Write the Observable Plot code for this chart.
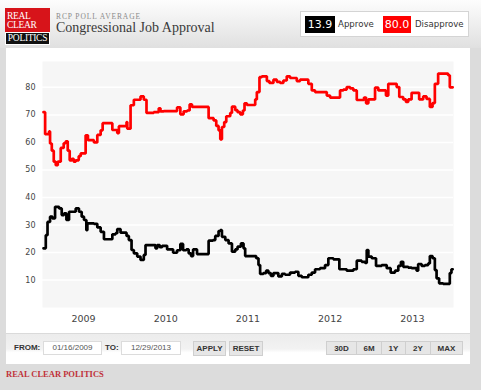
<!DOCTYPE html>
<html><head><meta charset="utf-8">
<script src="https://cdn.jsdelivr.net/npm/d3@7"></script>
<script src="https://cdn.jsdelivr.net/npm/@observablehq/plot@0.6"></script>
<style>
html,body{margin:0;padding:0;}
body{width:481px;height:390px;overflow:hidden;background:#dcdcdc;position:relative;font-family:"Liberation Sans",Arial,sans-serif;}
.abs{position:absolute;}
#header{left:0;top:0;width:481px;height:48px;background:linear-gradient(#fdfdfd,#e0e0e0);}
#logo{left:5px;top:8px;width:45px;height:37px;background:#d7141a;overflow:hidden;}
#logo .rc{position:absolute;left:2px;color:#fff;font:9.5px/9px "Liberation Serif",serif;letter-spacing:-0.3px;}
#logo .pol{position:absolute;left:0;bottom:0;width:45px;height:13px;background:#111;color:#fff;font:9.5px/11px "Liberation Serif",serif;text-align:center;border:1px solid #fff;box-sizing:border-box;letter-spacing:-0.3px;}
#kicker{left:56px;top:12px;font:7.5px "Liberation Serif",serif;letter-spacing:0.9px;color:#8a8a8a;}
#title{left:56px;top:20px;font:14px "Liberation Serif",serif;color:#3a3a3a;}
#legend{left:300px;top:11px;width:169px;height:26px;background:#fff;border:1px solid #d4d4d4;box-sizing:border-box;}
.lbox{position:absolute;top:16px;height:17px;color:#fff;font:11px/17px "DejaVu Sans",sans-serif;text-align:center;}
.ltxt{position:absolute;top:18px;font:8.6px/13px "DejaVu Sans",sans-serif;color:#333;}
#panel{left:6px;top:48px;width:464px;height:316px;background:#fff;}
#chart{left:6px;top:48px;}
#strip{left:6px;top:333px;width:464px;height:31px;border-top:1px solid #dadada;box-sizing:border-box;background:linear-gradient(#ececec 0%,#f2f2f2 50%,#fff 62%);}
.lab{position:absolute;top:343px;font:bold 8px/10px "Liberation Sans",Arial,sans-serif;color:#333;}
.inp{position:absolute;top:341px;height:14px;background:#fff;border:1px solid #dcdcdc;box-sizing:border-box;font:8px/12px "Liberation Sans",Arial,sans-serif;color:#555;text-align:center;}
.btn{position:absolute;top:341px;height:15px;background:#e6e6e6;border:1px solid #cfcfcf;box-sizing:border-box;font:bold 8px/13px "Liberation Sans",Arial,sans-serif;color:#333;text-align:center;}
#footer{left:6px;top:369px;font:bold 8.5px "Liberation Serif",serif;color:#c0313a;}
</style>
</head><body>
<script>
// Congressional Job Approval, RCP poll average (decimal year, percent)
const approve = [[2009.012,21.5],[2009.040,26.3],[2009.061,31.1],[2009.092,33],[2009.121,32.4],[2009.153,36.6],[2009.202,36],[2009.234,33.6],[2009.262,34.2],[2009.291,31.8],[2009.323,34.8],[2009.404,36],[2009.444,34.8],[2009.477,33],[2009.505,31.8],[2009.534,28.1],[2009.546,30.6],[2009.626,30.4],[2009.667,29.1],[2009.708,27.5],[2009.748,24.8],[2009.850,26.6],[2009.890,27],[2009.910,28.5],[2009.950,27.2],[2010.023,26],[2010.051,24.5],[2010.084,20.9],[2010.112,19.7],[2010.153,18.5],[2010.193,17.3],[2010.233,19.1],[2010.254,22.7],[2010.375,21.5],[2010.396,22.7],[2010.427,21.9],[2010.456,22.4],[2010.517,21.1],[2010.590,19.9],[2010.638,20.8],[2010.678,23.1],[2010.711,20.8],[2010.751,21.1],[2010.779,19.7],[2010.808,18.7],[2010.833,21.1],[2010.881,19.4],[2011.022,24.3],[2011.075,24.5],[2011.103,26],[2011.143,27.8],[2011.164,28.1],[2011.184,25.7],[2011.225,24.5],[2011.265,23.3],[2011.306,20.3],[2011.346,21.1],[2011.374,22.1],[2011.415,23.3],[2011.447,21.5],[2011.467,18.7],[2011.601,17.9],[2011.629,15.4],[2011.649,12.2],[2011.689,12.5],[2011.722,13.4],[2011.750,12.5],[2011.779,11.5],[2011.811,12.5],[2011.871,11.3],[2011.913,12.2],[2011.953,11.9],[2012.013,12.7],[2012.074,13],[2012.114,11.5],[2012.155,11],[2012.235,11.9],[2012.277,12.7],[2012.317,13.9],[2012.377,14.3],[2012.438,15.4],[2012.478,17.9],[2012.539,17.5],[2012.612,13.9],[2012.701,13.4],[2012.782,13.9],[2012.823,17],[2012.883,16.6],[2012.924,16.2],[2012.944,20.9],[2012.964,18.5],[2013.005,17.9],[2013.057,15.1],[2013.126,15.4],[2013.187,14.3],[2013.235,12.7],[2013.288,13.4],[2013.328,15.1],[2013.360,16.6],[2013.388,14.8],[2013.449,14.5],[2013.490,14.3],[2013.551,13.4],[2013.570,15.8],[2013.612,15.1],[2013.652,15.4],[2013.692,16],[2013.712,18.7],[2013.745,17.9],[2013.773,13.6],[2013.794,10.6],[2013.825,8.8],[2013.874,8.6],[2013.955,12.5],[2013.975,13.9],[2013.990,13.9]];
const disapprove = [[2009.012,71],[2009.032,63],[2009.080,64],[2009.092,59.6],[2009.113,57],[2009.137,53],[2009.161,51.7],[2009.186,53],[2009.222,58],[2009.258,59.7],[2009.283,60.4],[2009.307,57],[2009.331,53.5],[2009.356,54],[2009.380,53],[2009.404,53.5],[2009.441,55],[2009.465,56],[2009.525,62.6],[2009.553,60.8],[2009.626,60],[2009.667,62.7],[2009.708,64.4],[2009.732,67],[2009.789,67],[2009.850,64.5],[2009.910,63.4],[2009.930,65.9],[2010.011,65.9],[2010.023,67.4],[2010.032,65],[2010.072,73.5],[2010.112,75.5],[2010.193,76.7],[2010.233,75.5],[2010.266,70.7],[2010.316,70.7],[2010.354,71],[2010.415,72.4],[2010.436,71.3],[2010.476,71.4],[2010.597,71.4],[2010.638,72.7],[2010.678,70.2],[2010.718,71.3],[2010.760,71.6],[2010.791,73.8],[2010.820,72.9],[2011.002,72.9],[2011.022,68.8],[2011.083,68],[2011.115,66],[2011.143,64.4],[2011.164,61.1],[2011.184,65.6],[2011.212,67.4],[2011.237,69.5],[2011.285,70.7],[2011.306,73],[2011.346,71.7],[2011.374,71],[2011.407,70.2],[2011.439,71.6],[2011.459,74.2],[2011.488,73.6],[2011.568,73.6],[2011.589,75.6],[2011.609,78.3],[2011.641,83.7],[2011.670,84],[2011.731,82.3],[2011.762,81.6],[2011.811,82.8],[2011.852,82],[2011.892,81.6],[2011.932,82.5],[2011.973,84],[2012.013,83.4],[2012.053,83.4],[2012.095,82.3],[2012.135,82.8],[2012.195,82.8],[2012.235,81.3],[2012.277,78.9],[2012.317,78.3],[2012.417,78.3],[2012.459,77],[2012.499,76.3],[2012.600,76.3],[2012.620,78.9],[2012.660,79.2],[2012.701,80.1],[2012.742,79.6],[2012.782,78.9],[2012.823,75.4],[2012.883,75.4],[2012.911,76.3],[2012.936,74.2],[2012.964,75.6],[2013.024,75.6],[2013.045,79.9],[2013.085,78.9],[2013.166,78.9],[2013.178,77],[2013.206,81.3],[2013.267,81.3],[2013.308,80.1],[2013.340,76.5],[2013.388,75.6],[2013.421,74.7],[2013.449,75.6],[2013.490,78],[2013.551,78],[2013.582,75.6],[2013.631,76.7],[2013.672,75.8],[2013.712,72.9],[2013.745,74.3],[2013.773,81.3],[2013.813,85],[2013.894,85],[2013.934,84.4],[2013.955,80],[2013.990,80]];
const seriesNames = ["Approve", "Disapprove"];
const seriesColors = ["#000000", "#ff0000"];
const yearLabels = [2009, 2010, 2011, 2012, 2013];
const yTickValues = [10, 20, 30, 40, 50, 60, 70, 80];
const rangeFrom = "01/16/2009";
const rangeTo = "12/29/2013";
const rangeButtons = ["30D", "6M", "1Y", "2Y", "MAX"];
</script>
<div id="header" class="abs"></div>
<div id="logo" class="abs"><div class="rc" style="top:4px;">REAL</div><div class="rc" style="top:13px;">CLEAR</div><div class="pol">POLITICS</div></div>
<div id="kicker" class="abs">RCP POLL AVERAGE</div>
<div id="title" class="abs">Congressional Job Approval</div>
<div id="legend" class="abs"></div>
<div id="lb1" class="lbox" style="left:305px;width:30px;background:#000;"></div>
<div class="ltxt" style="left:338px;">Approve</div>
<div id="lb2" class="lbox" style="left:383px;width:28px;background:#f00;"></div>
<div class="ltxt" style="left:415px;">Disapprove</div>
<div id="panel" class="abs"></div>
<div id="chart" class="abs"></div>
<div id="strip" class="abs"></div>
<div class="lab" style="left:14px;">FROM:</div>
<div class="inp" id="from" style="left:43px;width:59px;"></div>
<div class="lab" style="left:105px;">TO:</div>
<div class="inp" id="to" style="left:121px;width:60px;"></div>
<div class="btn" style="left:193px;width:33px;">APPLY</div>
<div class="btn" style="left:229px;width:34px;">RESET</div>
<div id="btns"></div>
<div id="footer" class="abs">REAL CLEAR POLITICS</div>
<script>
function toDate(t) {
  const y = Math.floor(t), f = t - y;
  const a = Date.UTC(y, 0, 1), b = Date.UTC(y + 1, 0, 1);
  return new Date(a + f * (b - a));
}
const rows = [];
for (const [t, v] of approve) rows.push({date: toDate(t), value: v, series: "Approve"});
for (const [t, v] of disapprove) rows.push({date: toDate(t), value: v, series: "Disapprove"});

document.getElementById("lb1").textContent = approve[approve.length - 1][1].toFixed(1);
document.getElementById("lb2").textContent = disapprove[disapprove.length - 1][1].toFixed(1);
document.getElementById("from").textContent = rangeFrom;
document.getElementById("to").textContent = rangeTo;
const bx = [326, 356, 381, 405, 430, 462];
const btns = document.getElementById("btns");
rangeButtons.forEach((b, i) => {
  const d = document.createElement("div");
  d.className = "btn";
  d.style.left = bx[i] + "px";
  d.style.width = (bx[i + 1] - bx[i] + 1) + "px";
  d.style.top = "341px";
  d.style.height = "14px";
  d.textContent = b;
  btns.appendChild(d);
});

const chart = Plot.plot({
  width: 464,
  height: 285,
  marginLeft: 36,
  marginRight: 17,
  marginTop: 13,
  marginBottom: 26,
  style: {fontFamily: "DejaVu Sans", fontSize: "8px", color: "#444", background: "transparent", overflow: "visible"},
  x: {type: "utc", domain: [toDate(2009), toDate(2014)]},
  y: {domain: [0, 89.4]},
  color: {domain: seriesNames, range: seriesColors},
  marks: [
    Plot.frame({fill: "#f6f6f6", stroke: "none"}),
    Plot.ruleY(yTickValues, {stroke: "#ffffff", strokeWidth: 1.5}),
    Plot.axisY(yTickValues, {tickSize: 0, tickPadding: 7, label: null, fontSize: 8}),
    Plot.axisX(yearLabels.map(y => toDate(y + 0.5)), {tickSize: 0, tickPadding: 8, tickFormat: d3.utcFormat("%Y"), label: null, fontSize: 9.5}),
    Plot.line(rows, {x: "date", y: "value", z: "series", stroke: "series", curve: "step-after", strokeWidth: 2.7, strokeLinejoin: "miter"})
  ]
});
document.getElementById("chart").appendChild(chart);
</script>
</body></html>
